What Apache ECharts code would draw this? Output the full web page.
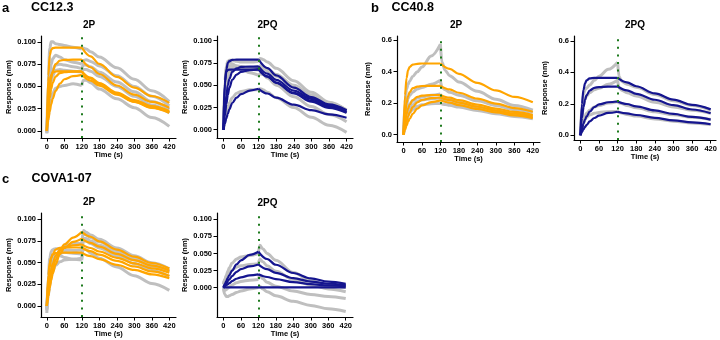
<!DOCTYPE html>
<html>
<head>
<meta charset="utf-8">
<script src="https://cdn.jsdelivr.net/npm/echarts@6/dist/echarts.min.js"></script>
<style>
  html, body { margin: 0; padding: 0; background: #fff; }
  #chart { width: 720px; height: 340px; }
</style>
</head>
<body>
<div id="chart"></div>
<script>
  // sample times (s)
  const tOn = [0, 5, 10, 15, 20, 30, 45, 60, 90, 120];
  const tOff = [120, 150, 180, 240, 300, 360, 420];
  const tRawOn = [0, 5, 10, 15, 20, 30, 45, 60, 90, 120];
  const tRawOff = [120, 125, 135, 150, 180, 240, 300, 360, 420];

  const xTicks = [0, 60, 120, 180, 240, 300, 360, 420];
  const yTicksSmall = [0, 0.025, 0.05, 0.075, 0.1];
  const yTicksBig = [0, 0.2, 0.4, 0.6];

  // a - CC12.3, 2P
  const aP_rawOn = [
    [-0.003, 0.055, 0.093, 0.100, 0.100, 0.098, 0.097, 0.096, 0.094, 0.092],
    [-0.002, 0.035, 0.062, 0.075, 0.081, 0.085, 0.083, 0.080, 0.077, 0.075],
    [-0.002, 0.030, 0.052, 0.063, 0.069, 0.074, 0.075, 0.074, 0.072, 0.070],
    [0, 0.025, 0.045, 0.056, 0.062, 0.068, 0.069, 0.068, 0.067, 0.066],
    [0, 0.015, 0.028, 0.037, 0.042, 0.048, 0.050, 0.051, 0.053, 0.051]
  ];
  const aP_rawOff = [
    [0.092, 0.093, 0.092, 0.089, 0.083, 0.071, 0.058, 0.045, 0.033],
    [0.075, 0.079, 0.080, 0.078, 0.073, 0.062, 0.050, 0.039, 0.028],
    [0.070, 0.074, 0.074, 0.072, 0.066, 0.055, 0.044, 0.033, 0.024],
    [0.066, 0.069, 0.069, 0.067, 0.061, 0.050, 0.039, 0.029, 0.020],
    [0.051, 0.057, 0.057, 0.054, 0.047, 0.036, 0.026, 0.015, 0.005]
  ];
  const aP_fitOn = [
    [0, 0.062, 0.085, 0.091, 0.093, 0.0935, 0.0935, 0.0935, 0.0935, 0.0935],
    [0, 0.028, 0.047, 0.059, 0.067, 0.075, 0.079, 0.0797, 0.080, 0.080],
    [0, 0.040, 0.057, 0.063, 0.0655, 0.0667, 0.0668, 0.0668, 0.0668, 0.0668],
    [0, 0.012, 0.022, 0.030, 0.036, 0.045, 0.053, 0.058, 0.0615, 0.063],
    [0, 0.022, 0.037, 0.047, 0.054, 0.061, 0.065, 0.066, 0.0665, 0.0665]
  ];
  const aP_fitOff = [
    [0.0935, 0.0838, 0.0753, 0.0606, 0.0487, 0.0392, 0.0315],
    [0.080, 0.0715, 0.0639, 0.051, 0.0407, 0.0325, 0.026],
    [0.0668, 0.0598, 0.0536, 0.043, 0.0346, 0.0279, 0.0224],
    [0.063, 0.0565, 0.0507, 0.0406, 0.0326, 0.0262, 0.021],
    [0.0665, 0.0591, 0.0526, 0.0415, 0.0328, 0.0259, 0.0205]
  ];

  // a - CC12.3, 2PQ
  const aQ_rawOn = [
    [0, 0.055, 0.072, 0.077, 0.078, 0.078, 0.077, 0.076, 0.076, 0.077],
    [0, 0.048, 0.068, 0.074, 0.075, 0.074, 0.071, 0.068, 0.064, 0.061],
    [0, 0.040, 0.062, 0.069, 0.071, 0.072, 0.072, 0.071, 0.070, 0.069],
    [0, 0.030, 0.050, 0.060, 0.065, 0.069, 0.070, 0.069, 0.068, 0.067],
    [0, 0.010, 0.019, 0.025, 0.030, 0.036, 0.041, 0.043, 0.045, 0.045]
  ];
  const aQ_rawOff = [
    [0.077, 0.080, 0.079, 0.076, 0.069, 0.055, 0.042, 0.031, 0.022],
    [0.061, 0.063, 0.062, 0.058, 0.050, 0.037, 0.026, 0.017, 0.009],
    [0.069, 0.072, 0.071, 0.068, 0.062, 0.050, 0.039, 0.030, 0.022],
    [0.067, 0.070, 0.069, 0.066, 0.060, 0.048, 0.037, 0.028, 0.019],
    [0.045, 0.046, 0.045, 0.042, 0.036, 0.025, 0.014, 0.005, -0.003]
  ];
  const aQ_fitOn = [
    [0, 0.052, 0.068, 0.075, 0.077, 0.0785, 0.0787, 0.0787, 0.0787, 0.0787],
    [0, 0.022, 0.038, 0.050, 0.057, 0.065, 0.069, 0.0705, 0.071, 0.0712],
    [0, 0.055, 0.065, 0.067, 0.0675, 0.0675, 0.0675, 0.0675, 0.0675, 0.0675],
    [0, 0.016, 0.029, 0.039, 0.047, 0.056, 0.062, 0.065, 0.067, 0.068],
    [0, 0.007, 0.013, 0.018, 0.023, 0.030, 0.036, 0.040, 0.044, 0.046]
  ];
  const aQ_fitOff = [
    [0.0787, 0.0693, 0.061, 0.0473, 0.0367, 0.0284, 0.022],
    [0.0712, 0.063, 0.0559, 0.044, 0.0346, 0.0273, 0.0215],
    [0.0675, 0.0597, 0.0529, 0.0414, 0.0326, 0.0256, 0.020],
    [0.068, 0.0599, 0.0527, 0.0408, 0.0316, 0.0245, 0.019],
    [0.046, 0.0407, 0.036, 0.0281, 0.022, 0.0172, 0.0135]
  ];

  // b - CC40.8, 2P
  const bP_rawOn = [
    [0, 0.20, 0.29, 0.32, 0.34, 0.37, 0.40, 0.43, 0.50, 0.575],
    [0, 0.12, 0.19, 0.23, 0.25, 0.27, 0.29, 0.30, 0.32, 0.345],
    [0, 0.08, 0.14, 0.175, 0.195, 0.215, 0.232, 0.24, 0.25, 0.258],
    [0, 0.06, 0.11, 0.145, 0.165, 0.19, 0.21, 0.22, 0.228, 0.235],
    [0, 0.05, 0.09, 0.12, 0.14, 0.16, 0.18, 0.19, 0.197, 0.20]
  ];
  const bP_rawOff = [
    [0.575, 0.46, 0.41, 0.375, 0.335, 0.275, 0.225, 0.185, 0.155],
    [0.345, 0.30, 0.285, 0.27, 0.25, 0.215, 0.185, 0.16, 0.14],
    [0.258, 0.24, 0.232, 0.222, 0.205, 0.176, 0.152, 0.132, 0.117],
    [0.235, 0.22, 0.213, 0.203, 0.188, 0.162, 0.14, 0.122, 0.107],
    [0.20, 0.195, 0.192, 0.186, 0.175, 0.153, 0.133, 0.115, 0.10]
  ];
  const bP_fitOn = [
    [0, 0.25, 0.36, 0.41, 0.43, 0.445, 0.45, 0.452, 0.452, 0.452],
    [0, 0.13, 0.20, 0.245, 0.27, 0.295, 0.305, 0.309, 0.31, 0.31],
    [0, 0.08, 0.13, 0.165, 0.19, 0.22, 0.24, 0.248, 0.252, 0.252],
    [0, 0.045, 0.085, 0.115, 0.14, 0.175, 0.205, 0.22, 0.232, 0.236],
    [0, 0.03, 0.058, 0.082, 0.10, 0.132, 0.165, 0.186, 0.207, 0.218]
  ];
  const bP_fitOff = [
    [0.452, 0.418, 0.386, 0.329, 0.281, 0.240, 0.205],
    [0.31, 0.287, 0.266, 0.229, 0.197, 0.169, 0.145],
    [0.252, 0.235, 0.219, 0.191, 0.165, 0.144, 0.125],
    [0.236, 0.220, 0.204, 0.177, 0.153, 0.133, 0.115],
    [0.218, 0.203, 0.188, 0.163, 0.141, 0.122, 0.105]
  ];

  // b - CC40.8, 2PQ
  const bQ_rawOn = [
    [0, 0.18, 0.26, 0.29, 0.30, 0.32, 0.35, 0.375, 0.42, 0.465],
    [0, 0.12, 0.19, 0.23, 0.25, 0.27, 0.29, 0.30, 0.325, 0.35],
    [0, 0.06, 0.10, 0.125, 0.14, 0.16, 0.18, 0.19, 0.205, 0.215],
    [0, 0.04, 0.075, 0.10, 0.115, 0.13, 0.14, 0.145, 0.15, 0.155]
  ];
  const bQ_rawOff = [
    [0.465, 0.37, 0.34, 0.325, 0.305, 0.26, 0.22, 0.19, 0.16],
    [0.35, 0.30, 0.285, 0.27, 0.25, 0.21, 0.18, 0.16, 0.14],
    [0.215, 0.205, 0.20, 0.19, 0.175, 0.15, 0.13, 0.114, 0.10],
    [0.155, 0.145, 0.14, 0.133, 0.122, 0.104, 0.09, 0.078, 0.068]
  ];
  const bQ_fitOn = [
    [0, 0.20, 0.29, 0.33, 0.35, 0.362, 0.365, 0.365, 0.365, 0.365],
    [0, 0.11, 0.18, 0.225, 0.255, 0.285, 0.302, 0.307, 0.31, 0.31],
    [0, 0.04, 0.075, 0.10, 0.12, 0.15, 0.18, 0.196, 0.21, 0.215],
    [0, 0.02, 0.038, 0.053, 0.066, 0.088, 0.11, 0.125, 0.142, 0.15]
  ];
  const bQ_fitOff = [
    [0.365, 0.337, 0.312, 0.266, 0.227, 0.194, 0.165],
    [0.31, 0.286, 0.264, 0.226, 0.192, 0.164, 0.14],
    [0.215, 0.199, 0.184, 0.158, 0.1356, 0.1165, 0.10],
    [0.15, 0.139, 0.129, 0.111, 0.095, 0.0815, 0.07]
  ];

  // c - COVA1-07, 2P
  const cP_rawOn = [
    [-0.008, 0.035, 0.055, 0.063, 0.065, 0.066, 0.066, 0.065, 0.064, 0.065],
    [-0.004, 0.025, 0.042, 0.052, 0.057, 0.060, 0.058, 0.056, 0.054, 0.053],
    [-0.002, 0.015, 0.028, 0.038, 0.045, 0.055, 0.064, 0.069, 0.072, 0.072],
    [-0.003, 0.020, 0.036, 0.046, 0.052, 0.058, 0.061, 0.062, 0.061, 0.060],
    [-0.005, 0.012, 0.024, 0.033, 0.040, 0.047, 0.051, 0.053, 0.054, 0.055]
  ];
  const cP_rawOff = [
    [0.065, 0.087, 0.085, 0.082, 0.077, 0.067, 0.058, 0.050, 0.043],
    [0.053, 0.078, 0.078, 0.075, 0.070, 0.061, 0.053, 0.046, 0.040],
    [0.072, 0.084, 0.082, 0.079, 0.074, 0.064, 0.055, 0.047, 0.040],
    [0.060, 0.075, 0.075, 0.072, 0.067, 0.058, 0.049, 0.041, 0.034],
    [0.055, 0.066, 0.065, 0.061, 0.055, 0.045, 0.035, 0.026, 0.018]
  ];
  const cP_fitOn = [
    [0, 0.012, 0.024, 0.034, 0.042, 0.053, 0.064, 0.071, 0.079, 0.0855],
    [0, 0.011, 0.021, 0.030, 0.037, 0.048, 0.060, 0.067, 0.074, 0.0777],
    [0, 0.018, 0.032, 0.042, 0.049, 0.058, 0.065, 0.068, 0.070, 0.0711],
    [0, 0.027, 0.045, 0.055, 0.060, 0.065, 0.0672, 0.0675, 0.0675, 0.0675],
    [0, 0.035, 0.050, 0.056, 0.059, 0.061, 0.0615, 0.0615, 0.0615, 0.0615]
  ];
  const cP_fitOff = [
    [0.0855, 0.0799, 0.0746, 0.0651, 0.0569, 0.0496, 0.0433],
    [0.0777, 0.0729, 0.0684, 0.0602, 0.053, 0.0466, 0.041],
    [0.0711, 0.0669, 0.0629, 0.0556, 0.0492, 0.0435, 0.0385],
    [0.0675, 0.0632, 0.0592, 0.052, 0.0456, 0.040, 0.035],
    [0.0615, 0.0576, 0.054, 0.0474, 0.0416, 0.0365, 0.032]
  ];

  // c - COVA1-07, 2PQ
  const cQ_rawOn = [
    [0.005, 0.012, 0.018, 0.024, 0.029, 0.036, 0.042, 0.045, 0.047, 0.050],
    [0.005, 0.012, 0.016, 0.019, 0.022, 0.026, 0.030, 0.032, 0.034, 0.035],
    [0.0, -0.004, -0.003, -0.001, 0.001, 0.004, 0.007, 0.009, 0.011, 0.012],
    [-0.002, -0.010, -0.013, -0.013, -0.012, -0.010, -0.007, -0.005, -0.002, 0.0]
  ];
  const cQ_rawOff = [
    [0.050, 0.062, 0.057, 0.050, 0.040, 0.022, 0.010, 0.003, 0.0],
    [0.035, 0.042, 0.038, 0.032, 0.024, 0.012, 0.004, -0.002, -0.006],
    [0.012, 0.018, 0.013, 0.008, 0.002, -0.005, -0.010, -0.013, -0.016],
    [0.0, 0.002, -0.002, -0.006, -0.012, -0.020, -0.026, -0.031, -0.035]
  ];
  const cQ_fitOn = [
    [0, 0.005, 0.010, 0.014, 0.018, 0.025, 0.034, 0.040, 0.048, 0.0525],
    [0, 0.003, 0.0065, 0.0095, 0.012, 0.017, 0.023, 0.027, 0.031, 0.034],
    [0, 0.002, 0.0035, 0.005, 0.0065, 0.0095, 0.013, 0.015, 0.018, 0.0195],
    [0, 0.0003, 0.0003, 0.0003, 0.0003, 0.0003, 0.0003, 0.0003, 0.0003, 0.0003]
  ];
  const cQ_fitOff = [
    [0.0525, 0.0419, 0.0335, 0.0214, 0.0136, 0.0087, 0.0055],
    [0.034, 0.027, 0.0217, 0.0139, 0.0088, 0.0057, 0.0036],
    [0.0195, 0.0156, 0.0124, 0.008, 0.005, 0.0033, 0.0021],
    [0.0003, 0.0003, 0.0003, 0.0003, 0.0003, 0.0003, 0.0003]
  ];

  const FONT = 'Liberation Sans, Arial, Helvetica, sans-serif';
  const GREY = '#bfbfbf';
  const ORANGE = '#ffa500';
  const BLUE = '#15158f';
  const GREEN = '#1d7a1d';

  // layout of the six panels (px), axis ranges chosen to match the picture
  const panels = [
    { grid: { left: 41, top: 36, width: 135, height: 102 }, x: [-20, 443], y: [-0.008, 0.1066], ticks: yTicksSmall, dec: 3,
      rawOn: aP_rawOn, rawOff: aP_rawOff, fitOn: aP_fitOn, fitOff: aP_fitOff, color: ORANGE },
    { grid: { left: 217, top: 36, width: 136, height: 102 }, x: [-22, 442], y: [-0.0093, 0.1053], ticks: yTicksSmall, dec: 3,
      rawOn: aQ_rawOn, rawOff: aQ_rawOff, fitOn: aQ_fitOn, fitOff: aQ_fitOff, color: BLUE },
    { grid: { left: 397, top: 36, width: 143, height: 106 }, x: [-21, 443.4], y: [-0.047, 0.627], ticks: yTicksBig, dec: 1,
      rawOn: bP_rawOn, rawOff: bP_rawOff, fitOn: bP_fitOn, fitOff: bP_fitOff, color: ORANGE },
    { grid: { left: 574, top: 36, width: 142, height: 104 }, x: [-20.6, 437.2], y: [-0.03, 0.6316], ticks: yTicksBig, dec: 1,
      rawOn: bQ_rawOn, rawOff: bQ_rawOff, fitOn: bQ_fitOn, fitOff: bQ_fitOff, color: BLUE },
    { grid: { left: 41, top: 213, width: 135, height: 104 }, x: [-20, 443], y: [-0.0127, 0.1073], ticks: yTicksSmall, dec: 3,
      rawOn: cP_rawOn, rawOff: cP_rawOff, fitOn: cP_fitOn, fitOff: cP_fitOff, color: ORANGE },
    { grid: { left: 217, top: 213, width: 136, height: 104 }, x: [-22, 445], y: [-0.043, 0.1093], ticks: yTicksSmall, dec: 3,
      rawOn: cQ_rawOn, rawOff: cQ_rawOff, fitOn: cQ_fitOn, fitOff: cQ_fitOff, color: BLUE }
  ];

  function trace(t1, v1, t2, v2) {
    const d = t1.map((t, i) => [t, v1[i]]);
    d.push([t2[0], '-']);
    return d.concat(t2.map((t, i) => [t, v2[i]]));
  }

  const grid = [], xAxis = [], yAxis = [], series = [];
  panels.forEach((p, k) => {
    grid.push(p.grid);
    xAxis.push({
      type: 'value', gridIndex: k, min: p.x[0], max: p.x[1],
      name: 'Time (s)', nameLocation: 'middle', nameGap: 13,
      nameTextStyle: { fontFamily: FONT, fontWeight: 'bold', fontSize: 7.5, color: '#000' },
      axisLine: { onZero: false, lineStyle: { color: '#000', width: 1.2 } },
      axisTick: { length: 3.5, customValues: xTicks, lineStyle: { color: '#000' } },
      axisLabel: { customValues: xTicks, margin: 4.5, fontFamily: FONT, fontWeight: 'bold', fontSize: 7.5, color: '#000' },
      splitLine: { show: false }
    });
    yAxis.push({
      type: 'value', gridIndex: k, min: p.y[0], max: p.y[1],
      name: 'Response (nm)', nameLocation: 'middle', nameGap: 25,
      nameTextStyle: { fontFamily: FONT, fontWeight: 'bold', fontSize: 7.5, color: '#000' },
      axisLine: { show: true, onZero: false, lineStyle: { color: '#000', width: 1.2 } },
      axisTick: { show: true, length: 3.5, customValues: p.ticks, lineStyle: { color: '#000' } },
      axisLabel: { customValues: p.ticks, margin: 5, fontFamily: FONT, fontWeight: 'bold', fontSize: 7.5, color: '#000',
        formatter: v => v.toFixed(p.dec) },
      splitLine: { show: false }
    });
    p.rawOn.forEach((v, i) => series.push({
      type: 'line', xAxisIndex: k, yAxisIndex: k, showSymbol: false, smooth: 0.35, smoothMonotone: 'x',
      lineStyle: { color: GREY, width: 3 }, z: 2, silent: true,
      data: trace(tRawOn, v, tRawOff, p.rawOff[i])
    }));
    p.fitOn.forEach((v, i) => series.push({
      type: 'line', xAxisIndex: k, yAxisIndex: k, showSymbol: false, smooth: 0.35, smoothMonotone: 'x',
      lineStyle: { color: p.color, width: 2.2 }, z: 3, silent: true,
      data: trace(tOn, v, tOff, p.fitOff[i])
    }));
    series.push({
      type: 'line', xAxisIndex: k, yAxisIndex: k, data: [], z: 4,
      markLine: {
        silent: true, symbol: 'none', animation: false, label: { show: false },
        lineStyle: { color: GREEN, width: 2, type: [2, 5.6] },
        data: [{ xAxis: 120 }]
      }
    });
  });

  const txt = (s, x, y, size, align) => ({
    type: 'text', x: x, y: y,
    style: { text: s, fontFamily: FONT, fontWeight: 'bold', fontSize: size, fill: '#000',
      textAlign: align || 'left', textVerticalAlign: 'middle' }
  });

  const chart = echarts.init(document.getElementById('chart'), null, { renderer: 'canvas' });
  chart.setOption({
    animation: false,
    backgroundColor: '#fff',
    grid: grid, xAxis: xAxis, yAxis: yAxis, series: series,
    graphic: [
      txt('a', 2, 8, 13), txt('CC12.3', 31, 8, 12.5),
      txt('b', 371, 8, 13), txt('CC40.8', 391.5, 8, 12.5),
      txt('c', 2, 179, 13), txt('COVA1-07', 31.5, 179, 12.5),
      txt('2P', 89, 25, 10, 'center'), txt('2PQ', 267.5, 25, 10, 'center'),
      txt('2P', 456, 25, 10, 'center'), txt('2PQ', 635, 25, 10, 'center'),
      txt('2P', 89, 202, 10, 'center'), txt('2PQ', 267.5, 203, 10, 'center')
    ]
  });
</script>
</body>
</html>
